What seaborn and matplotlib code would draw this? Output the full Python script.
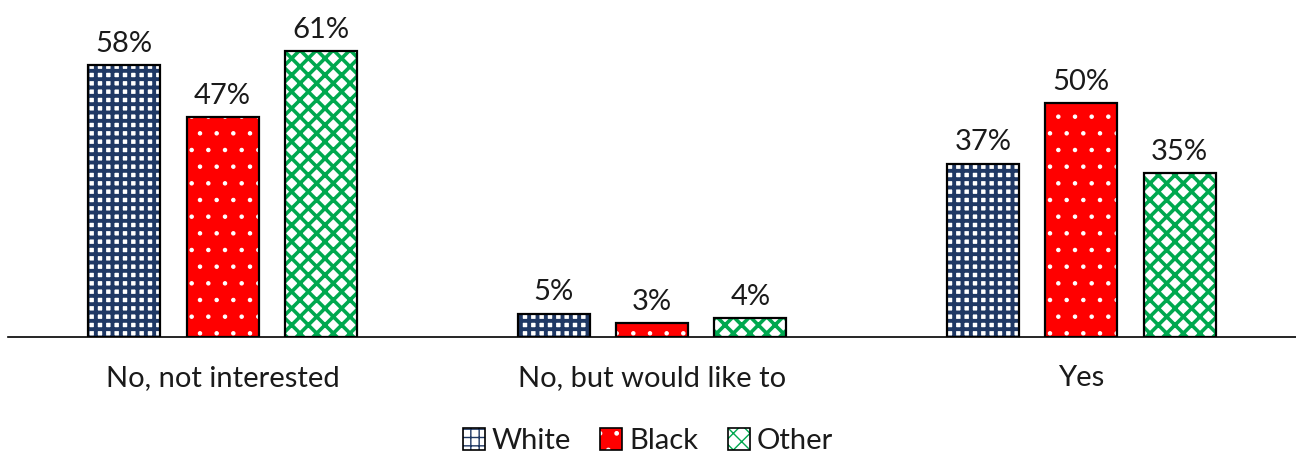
import matplotlib
matplotlib.use("Agg")
import matplotlib.pyplot as plt
import matplotlib.patches as mpatches
from matplotlib.legend_handler import HandlerTuple
import seaborn as sns
import pandas as pd

categories = ["No, not interested", "No, but would like to", "Yes"]
groups = ["White", "Black", "Other"]
white_vals = [58, 5, 37]
black_vals = [47, 3, 50]
other_vals = [61, 4, 35]

df = pd.DataFrame({
    "category": categories * 3,
    "group": [g for g in groups for _ in categories],
    "value": white_vals + black_vals + other_vals,
})

sns.set_style("white")
plt.rcParams['font.family'] = ['Lato', 'DejaVu Sans']

styles = {
    "White": dict(face="white", hatch="++", hcolor="#1F3864", hlw=2.8),
    "Black": dict(face="#FF0000", hatch=".", hcolor="white", hlw=0.8),
    "Other": dict(face="white", hatch="xx", hcolor="#00A84F", hlw=2.6),
}

fig = plt.figure(figsize=(12.96, 4.57), dpi=100)
ax = fig.add_axes([8/1296, 120/457, 1 - 8/1296, 317/457])

sns.barplot(data=df, x="category", y="value", hue="group", order=categories,
            hue_order=groups, width=0.687, gap=0.265, ax=ax, legend=False)

for cont, g in zip(ax.containers, groups):
    st = styles[g]
    for p in cont.patches:
        p.set_facecolor(st["face"])
        p.set_edgecolor(st["hcolor"])
        p.set_hatch(st["hatch"])
        p.set_linewidth(0)
        try:
            p.set_hatch_linewidth(st["hlw"])
        except Exception:
            pass
        outline = mpatches.Rectangle(p.get_xy(), p.get_width(), p.get_height(),
                                     fill=False, edgecolor="black", linewidth=1.6,
                                     zorder=p.get_zorder() + 0.1)
        ax.add_patch(outline)
    ax.bar_label(cont, labels=[f"{int(v)}%" for v in cont.datavalues],
                 padding=6, fontsize=21, color="#1a1a1a")

ax.set_xlim(-0.5, 2.5)
ax.set_ylim(0, 67.7)
ax.set_xlabel("")
ax.set_ylabel("")
ax.set_yticks([])
ax.tick_params(axis="x", length=0, labelsize=21, pad=20, labelcolor="#1a1a1a")
for s in ["top", "right", "left"]:
    ax.spines[s].set_visible(False)
ax.spines["bottom"].set_color("black")
ax.spines["bottom"].set_linewidth(1.2)

handles = []
for g in groups:
    st = styles[g]
    h = mpatches.Patch(facecolor=st["face"], edgecolor=st["hcolor"], hatch=st["hatch"], linewidth=0)
    try:
        h.set_hatch_linewidth(st["hlw"])
    except Exception:
        pass
    o = mpatches.Patch(fill=False, edgecolor="black", linewidth=1.2)
    handles.append((h, o))
leg = fig.legend(handles, groups, loc="center", bbox_to_anchor=(0.5, 1 - 441/457),
                 ncol=3, frameon=False, fontsize=21, handlelength=0.75, handleheight=0.75,
                 handletextpad=0.25, columnspacing=1.0,
                 handler_map={tuple: HandlerTuple(ndivide=1, pad=0)})
for t in leg.get_texts():
    t.set_color("#1a1a1a")

fig.savefig("out.png", dpi=100)
